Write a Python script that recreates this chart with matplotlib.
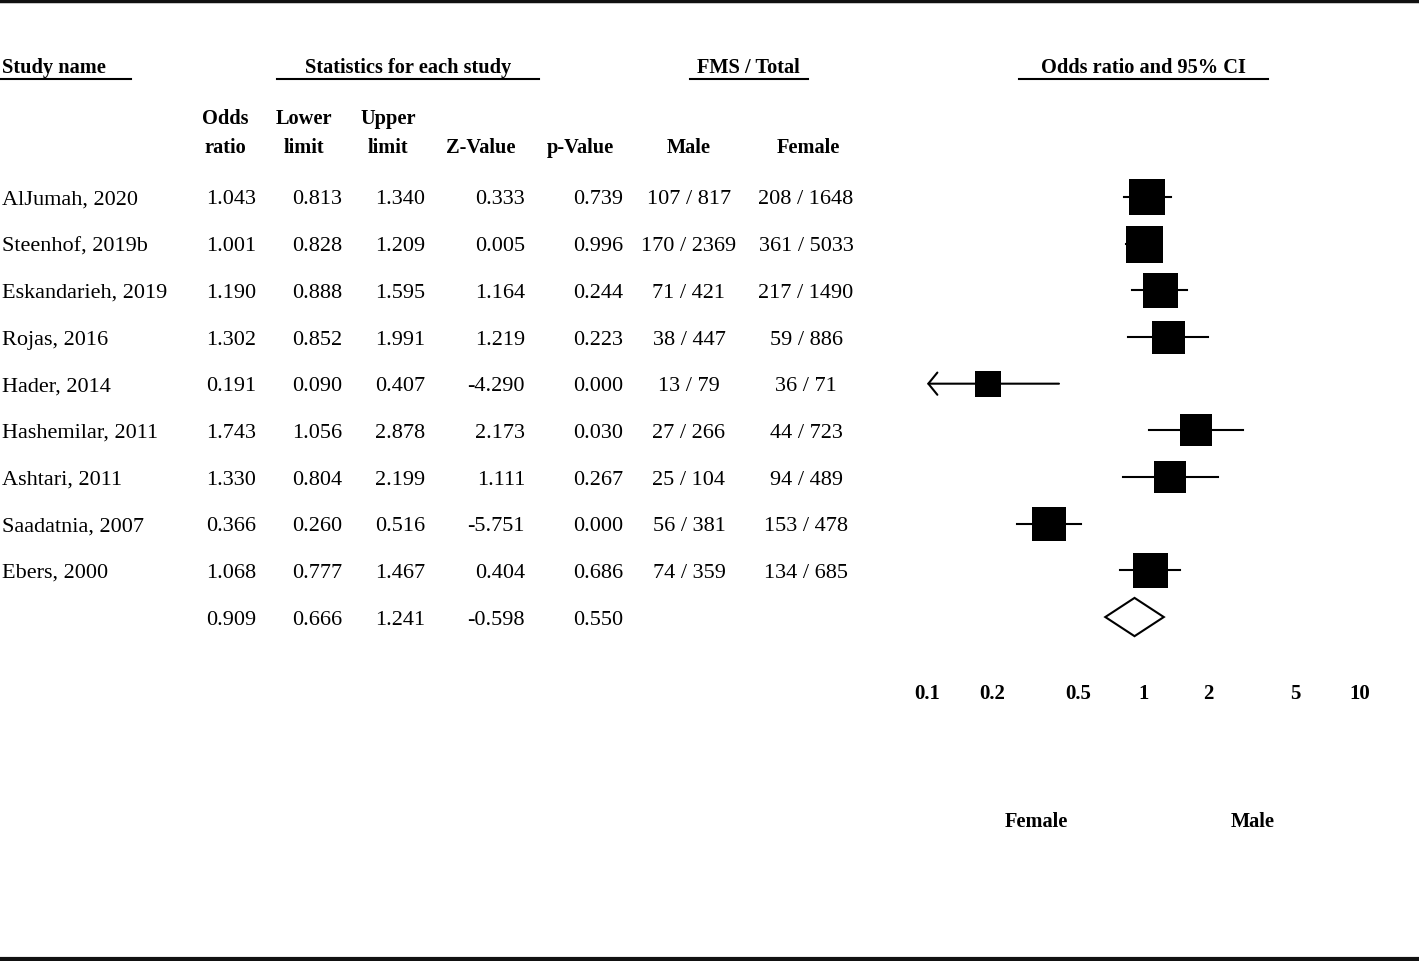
"""Forest plot: odds ratio of FMS, male vs female."""
import matplotlib
matplotlib.use("Agg")
import matplotlib.pyplot as plt
from matplotlib.patches import Polygon
from matplotlib.transforms import blended_transform_factory

plt.rcParams["font.family"] = ["Liberation Serif", "DejaVu Serif"]

studies = ["AlJumah, 2020", "Steenhof, 2019b", "Eskandarieh, 2019", "Rojas, 2016",
           "Hader, 2014", "Hashemilar, 2011", "Ashtari, 2011", "Saadatnia, 2007",
           "Ebers, 2000"]
odds = [1.043, 1.001, 1.190, 1.302, 0.191, 1.743, 1.330, 0.366, 1.068]
lower = [0.813, 0.828, 0.888, 0.852, 0.090, 1.056, 0.804, 0.260, 0.777]
upper = [1.340, 1.209, 1.595, 1.991, 0.407, 2.878, 2.199, 0.516, 1.467]
z_val = [0.333, 0.005, 1.164, 1.219, -4.290, 2.173, 1.111, -5.751, 0.404]
p_val = [0.739, 0.996, 0.244, 0.223, 0.000, 0.030, 0.267, 0.000, 0.686]
male = ["107 / 817", "170 / 2369", "71 / 421", "38 / 447", "13 / 79",
        "27 / 266", "25 / 104", "56 / 381", "74 / 359"]
female = ["208 / 1648", "361 / 5033", "217 / 1490", "59 / 886", "36 / 71",
          "44 / 723", "94 / 489", "153 / 478", "134 / 685"]
# relative weight (square side)
weight = [36, 37, 35, 33, 27, 32, 32, 34, 35]
pooled = {"or": 0.909, "lo": 0.666, "hi": 1.241, "z": -0.598, "p": 0.550}
ticks = [0.1, 0.2, 0.5, 1, 2, 5, 10]

W, H = 1419, 961
fig = plt.figure(figsize=(W / 100, H / 100), dpi=100)
page = fig.add_axes([0, 0, 1, 1])
page.set_xlim(0, W)
page.set_ylim(H, 0)
page.axis("off")

body = dict(fontsize=16, va="center")
head = dict(fontsize=14.7, fontweight="bold", va="center")
dy = 3  # text bbox centre sits a little above the glyph centre

# frame lines
page.plot([0, W], [1, 1], color="#111111", lw=2.5)
page.plot([0, W], [959, 959], color="#111111", lw=3)

# group headers with underline
groups = [("Study name", 2, "left", 0, 131),
          ("Statistics for each study", 408, "center", 277, 539),
          ("FMS / Total", 748, "center", 690, 808),
          ("Odds ratio and 95% CI", 1143, "center", 1019, 1268)]
for label, x, ha, x0, x1 in groups:
    page.text(x, 66 + 2, label, ha=ha, **head)
    page.plot([x0, x1], [78.5, 78.5], color="black", lw=1.5)

# column headers
two_line = [("Odds", "ratio", 225), ("Lower", "limit", 304), ("Upper", "limit", 388)]
for top, bot, x in two_line:
    page.text(x, 117 + 2, top, ha="center", **head)
    page.text(x, 146 + 2, bot, ha="center", **head)
for label, x in [("Z-Value", 481), ("p-Value", 580), ("Male", 689), ("Female", 808)]:
    page.text(x, 146 + 2, label, ha="center", **head)

row0, step = 197, 46.67
cols = [256, 342, 425, 525, 623]
for i, name in enumerate(studies):
    y = row0 + step * i + dy
    page.text(2, y, name, ha="left", **body)
    for x, v in zip(cols, [odds[i], lower[i], upper[i], z_val[i], p_val[i]]):
        page.text(x, y, f"{v:.3f}", ha="right", **body)
    page.text(689, y, male[i], ha="center", **body)
    page.text(806, y, female[i], ha="center", **body)

y = row0 + step * len(studies) + dy
for x, v in zip(cols, [pooled["or"], pooled["lo"], pooled["hi"], pooled["z"], pooled["p"]]):
    page.text(x, y, f"{v:.3f}", ha="right", **body)

# forest panel: 0.1 -> x=927 px, 10 -> x=1360 px
n_rows = len(studies) + 1
top_px = row0 - step / 2
bot_px = row0 + step * (n_rows - 0.5)
ax = fig.add_axes([927 / W, 1 - bot_px / H, 433 / W, (bot_px - top_px) / H])
ax.set_xscale("log")
ax.set_xlim(0.1, 10)
ax.set_ylim(n_rows - 0.5, -0.5)
ax.axis("off")

for i in range(len(studies)):
    lo = max(lower[i], 0.1)
    if lower[i] < 0.1:
        ax.annotate("", xy=(0.1, i), xytext=(upper[i], i), annotation_clip=False,
                    arrowprops=dict(arrowstyle="->,head_length=0.65,head_width=0.8",
                                    lw=1.5, color="black", shrinkA=0, shrinkB=0))
    else:
        ax.plot([lo, upper[i]], [i, i], color="black", lw=1.5)
    ax.plot(odds[i], i, marker="s", markersize=weight[i] * 0.72, color="black",
            markeredgewidth=0)

k = len(studies)
h = 0.41
diamond = Polygon([(pooled["lo"], k), (pooled["or"], k - h),
                   (pooled["hi"], k), (pooled["or"], k + h)],
                  closed=True, facecolor="white", edgecolor="black", lw=1.5)
ax.add_patch(diamond)

tr = blended_transform_factory(ax.transData, page.transData)
for t in ticks:
    page.text(t, 692 + 2, f"{t:g}", ha="center", transform=tr, clip_on=False,
              fontsize=15, fontweight="bold", va="center")

page.text(1036, 820 + 2, "Female", ha="center", **head)
page.text(1253, 820 + 2, "Male", ha="center", **head)

fig.savefig("out.png", dpi=100)
